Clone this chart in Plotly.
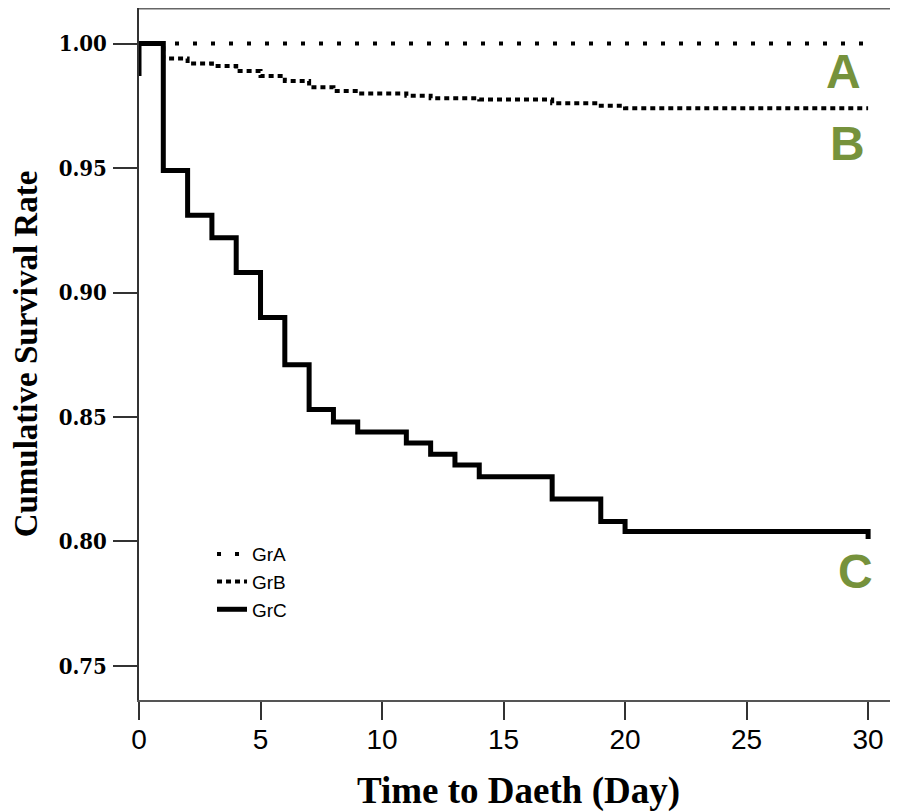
import plotly.graph_objects as go

# ---- data ----
days_A = [0, 30]
surv_A = [1.000, 1.000]

days_B = [0, 1, 2, 3, 4, 5, 6, 7, 8, 9, 11, 12, 14, 17, 19, 20, 30]
surv_B = [1.000, 0.994, 0.992, 0.991, 0.989, 0.987, 0.985, 0.9825, 0.981,
          0.980, 0.979, 0.978, 0.9775, 0.976, 0.975, 0.974, 0.974]

days_C = [0, 0, 1, 2, 3, 4, 5, 6, 7, 8, 9, 11, 12, 13, 14, 17, 19, 20, 30]
surv_C = [0.987, 1.000, 0.949, 0.931, 0.922, 0.908, 0.890, 0.871, 0.853, 0.848,
          0.844, 0.8395, 0.835, 0.8307, 0.826, 0.817, 0.808, 0.804, 0.801]

group_names = ["GrA", "GrB", "GrC"]
group_labels = ["A", "B", "C"]
x_ticks = [0, 5, 10, 15, 20, 25, 30]
y_ticks = [0.75, 0.80, 0.85, 0.90, 0.95, 1.00]

GREEN = "#76923C"

fig = go.Figure()
fig.add_trace(go.Scatter(x=days_A, y=surv_A, mode="lines", name=group_names[0],
                         line=dict(color="black", width=4, dash="4px,14px", shape="hv")))
fig.add_trace(go.Scatter(x=days_B, y=surv_B, mode="lines", name=group_names[1],
                         line=dict(color="black", width=4, dash="5px,4px", shape="hv")))
fig.add_trace(go.Scatter(x=days_C, y=surv_C, mode="lines", name=group_names[2],
                         line=dict(color="black", width=5, shape="hv")))

# Group letters near the curve ends
for lab, (xx, yy) in zip(group_labels, [(29.0, 0.9888), (29.17, 0.9599), (29.5, 0.7881)]):
    fig.add_annotation(x=xx, y=yy, xref="x", yref="y", text=lab, showarrow=False,
                       font=dict(family="Liberation Sans", size=48, color=GREEN, weight="bold"))

fig.add_shape(type="line", xref="paper", yref="paper", x0=0, x1=1, y0=1, y1=1,
              line=dict(color="#666666", width=3))

fig.update_layout(
    width=890, height=804,
    margin=dict(l=131, r=0, t=0, b=112),
    plot_bgcolor="white", paper_bgcolor="white",
    showlegend=True,
    legend=dict(x=0.0962, y=0.2384, xanchor="left", yanchor="top",
                bgcolor="rgba(0,0,0,0)", font=dict(family="Liberation Sans", size=19, color="black"),
                tracegroupgap=0, itemwidth=30),
)
fig.update_xaxes(
    range=[0, 31.23], tickvals=x_ticks, ticks="outside", ticklen=18, tickwidth=2,
    tickcolor="#333333", showline=True, linewidth=2, linecolor="#555555",
    showgrid=False, zeroline=False, ticklabelstandoff=-5,
    tickfont=dict(family="Liberation Sans", size=28, color="black"),
    title=dict(text="Time to Daeth (Day)", standoff=25,
               font=dict(family="Liberation Serif", size=37, color="black", weight="bold")),
)
fig.update_yaxes(
    range=[0.7363, 1.0143], tickvals=y_ticks, tickformat=".2f", ticks="outside",
    ticklen=24, tickwidth=2, tickcolor="#333333", showline=True, linewidth=1.5,
    linecolor="#333333", showgrid=False, zeroline=False, ticklabelstandoff=2,
    tickfont=dict(family="DejaVu Serif Condensed, DejaVu Serif", size=22, color="black", weight="bold"),
    title=dict(text="Cumulative Survival Rate", standoff=18,
               font=dict(family="Liberation Serif", size=33, color="black", weight="bold")),
)

fig.write_html("out.html")
